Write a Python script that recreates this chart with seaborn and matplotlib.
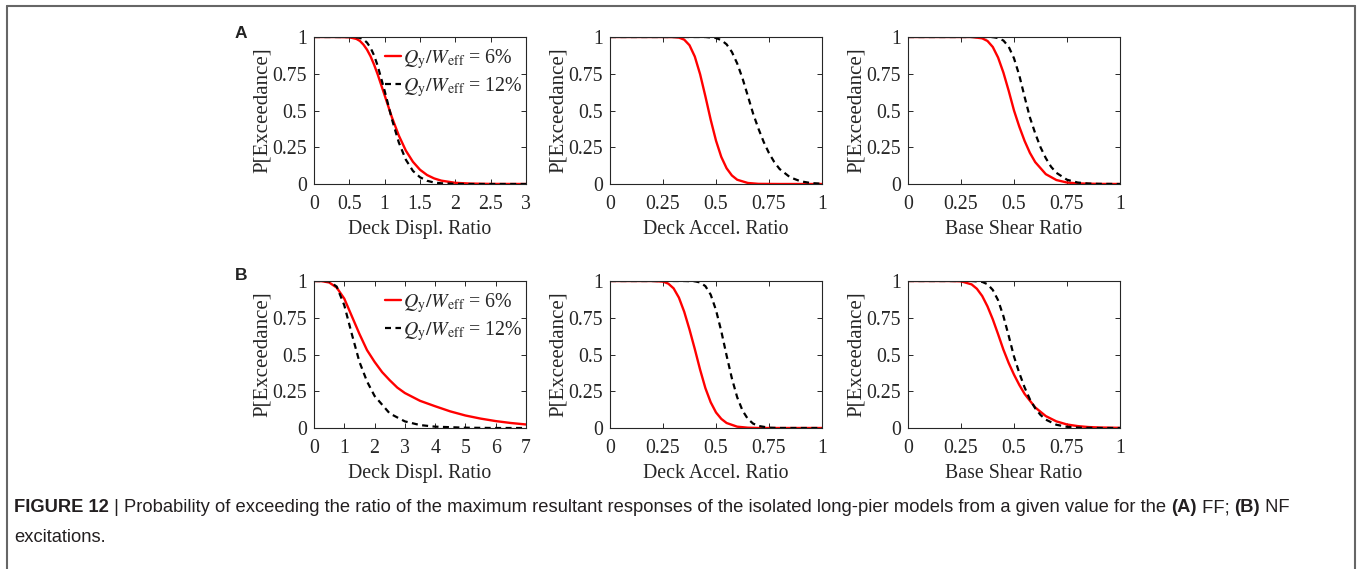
import numpy as np
import pandas as pd
import matplotlib
matplotlib.use("Agg")
import matplotlib.pyplot as plt
import seaborn as sns

# ---------------- data ----------------
LEGEND_6 = r"$Q_{\mathrm{y}}/W_{\mathrm{eff}}$ = 6%"
LEGEND_12 = r"$Q_{\mathrm{y}}/W_{\mathrm{eff}}$ = 12%"

XLABELS = ["Deck Displ. Ratio", "Deck Accel. Ratio", "Base Shear Ratio"]
YLABEL = "P[Exceedance]"
PANEL_LABELS = ["A", "B"]

XTICKS_DISP_A = [0, 0.5, 1, 1.5, 2, 2.5, 3]
XTICKS_DISP_B = [0, 1, 2, 3, 4, 5, 6, 7]
XTICKS_RATIO = [0, 0.25, 0.5, 0.75, 1]
YTICKS = [0, 0.25, 0.5, 0.75, 1]

# Row A (FF) - deck displacement ratio
A_DISP_X6 = [0, 0.3, 0.5, 0.6, 0.65, 0.7, 0.75, 0.8, 0.85, 0.9, 1.0, 1.1, 1.2, 1.3, 1.4, 1.5, 1.6, 1.7, 1.8, 2.0, 2.2, 2.5, 3.0]
A_DISP_P6 = [1, 1, 0.998, 0.987, 0.973, 0.948, 0.914, 0.869, 0.812, 0.747, 0.603, 0.457, 0.330, 0.227, 0.151, 0.097, 0.061, 0.038, 0.023, 0.008, 0.003, 0.0005, 0]
A_DISP_X12 = [0, 0.5, 0.6, 0.65, 0.7, 0.75, 0.8, 0.85, 0.9, 1.0, 1.1, 1.2, 1.3, 1.4, 1.5, 1.6, 1.7, 1.8, 2.0, 2.2, 3.0]
A_DISP_P12 = [1, 1, 0.998, 0.994, 0.983, 0.962, 0.927, 0.875, 0.806, 0.633, 0.445, 0.283, 0.165, 0.089, 0.046, 0.022, 0.010, 0.005, 0.001, 0, 0]

# Row A - deck acceleration ratio
A_ACC_X6 = [0, 0.25, 0.3, 0.325, 0.35, 0.375, 0.4, 0.425, 0.45, 0.475, 0.5, 0.525, 0.55, 0.575, 0.6, 0.65, 0.7, 0.8, 1.0]
A_ACC_P6 = [1, 1, 0.999, 0.996, 0.982, 0.944, 0.867, 0.747, 0.596, 0.437, 0.295, 0.184, 0.107, 0.058, 0.029, 0.007, 0.001, 0, 0]
A_ACC_X12 = [0, 0.45, 0.5, 0.525, 0.55, 0.575, 0.6, 0.625, 0.65, 0.675, 0.7, 0.725, 0.75, 0.775, 0.8, 0.85, 0.9, 0.95, 1.0]
A_ACC_P12 = [1, 1, 0.993, 0.979, 0.95, 0.898, 0.82, 0.719, 0.60, 0.479, 0.377, 0.286, 0.21, 0.149, 0.102, 0.045, 0.018, 0.006, 0.002]

# Row A - base shear ratio
A_SHR_X6 = [0, 0.3, 0.35, 0.375, 0.4, 0.425, 0.45, 0.475, 0.5, 0.525, 0.55, 0.575, 0.6, 0.65, 0.7, 0.75, 0.8, 0.9, 1.0]
A_SHR_P6 = [1, 1, 0.991, 0.973, 0.932, 0.86, 0.758, 0.634, 0.5, 0.39, 0.293, 0.212, 0.149, 0.067, 0.027, 0.010, 0.004, 0.0005, 0]
A_SHR_X12 = [0, 0.35, 0.4, 0.425, 0.45, 0.475, 0.5, 0.525, 0.55, 0.575, 0.6, 0.625, 0.65, 0.675, 0.7, 0.75, 0.8, 0.85, 0.9, 1.0]
A_SHR_P12 = [1, 1, 0.999, 0.993, 0.976, 0.934, 0.855, 0.739, 0.593, 0.453, 0.345, 0.25, 0.176, 0.117, 0.076, 0.029, 0.010, 0.003, 0.001, 0]

# Row B (NF) - deck displacement ratio
B_DISP_X6 = [0, 0.25, 0.5, 0.75, 1.0, 1.25, 1.5, 1.75, 2.0, 2.25, 2.5, 2.75, 3.0, 3.5, 4.0, 4.5, 5.0, 5.5, 6.0, 6.5, 7.0]
B_DISP_P6 = [1, 0.999, 0.99, 0.955, 0.88, 0.76, 0.64, 0.53, 0.45, 0.38, 0.325, 0.275, 0.238, 0.185, 0.148, 0.113, 0.085, 0.064, 0.047, 0.034, 0.024]
B_DISP_X12 = [0, 0.25, 0.5, 0.75, 1.0, 1.25, 1.5, 1.75, 2.0, 2.5, 3.0, 3.5, 4.0, 5.0, 6.0, 7.0]
B_DISP_P12 = [1, 1, 0.998, 0.962, 0.835, 0.638, 0.45, 0.317, 0.218, 0.099, 0.045, 0.020, 0.009, 0.002, 0, 0]

# Row B - deck acceleration ratio
B_ACC_X6 = [0, 0.2, 0.25, 0.275, 0.3, 0.325, 0.35, 0.375, 0.4, 0.425, 0.45, 0.475, 0.5, 0.525, 0.55, 0.6, 0.65, 0.7, 1.0]
B_ACC_P6 = [1, 1, 0.996, 0.982, 0.95, 0.887, 0.791, 0.67, 0.537, 0.397, 0.271, 0.175, 0.106, 0.062, 0.034, 0.009, 0.002, 0, 0]
B_ACC_X12 = [0, 0.35, 0.4, 0.425, 0.45, 0.475, 0.5, 0.525, 0.55, 0.575, 0.6, 0.625, 0.65, 0.675, 0.7, 0.75, 0.8, 1.0]
B_ACC_P12 = [1, 1, 0.998, 0.990, 0.965, 0.907, 0.802, 0.658, 0.493, 0.337, 0.209, 0.119, 0.062, 0.030, 0.014, 0.002, 0, 0]

# Row B - base shear ratio
B_SHR_X6 = [0, 0.2, 0.25, 0.3, 0.325, 0.35, 0.375, 0.4, 0.425, 0.45, 0.475, 0.5, 0.525, 0.55, 0.6, 0.65, 0.7, 0.75, 0.8, 0.85, 0.9, 1.0]
B_SHR_P6 = [1, 1, 0.998, 0.977, 0.947, 0.898, 0.827, 0.739, 0.638, 0.533, 0.442, 0.363, 0.293, 0.232, 0.140, 0.081, 0.045, 0.024, 0.013, 0.0065, 0.0035, 0.001]
B_SHR_X12 = [0, 0.3, 0.35, 0.375, 0.4, 0.425, 0.45, 0.475, 0.5, 0.525, 0.55, 0.575, 0.6, 0.625, 0.65, 0.7, 0.75, 0.8, 0.9, 1.0]
B_SHR_P12 = [1, 1, 0.994, 0.978, 0.939, 0.869, 0.761, 0.627, 0.486, 0.374, 0.276, 0.195, 0.134, 0.089, 0.057, 0.022, 0.008, 0.0025, 0, 0]

CAPTION_LINE1 = [
    ("FIGURE 12", "bold"),
    (" | ", "normal"),
    ("Probability of exceeding the ratio of the maximum resultant responses of the isolated long-pier models from a given value for the ", "normal"),
    ("(A)", "bold"),
    (" FF; ", "normal"),
    ("(B)", "bold"),
    (" NF", "normal"),
]
CAPTION_LINE2 = "excitations."

# ---------------- styling ----------------
sns.set_theme(style="ticks")
plt.rcParams["font.family"] = ["Liberation Serif", "DejaVu Serif"]
plt.rcParams["mathtext.fontset"] = "stix"

W, H = 1357, 569
fig = plt.figure(figsize=(W / 100, H / 100), dpi=100)
fig.patch.set_facecolor("white")

AX_COLOR = "#262626"
FS = 14.3
YFS = 15.0

lefts = [314, 610, 908]
rows = [(37, 184), (281, 428)]
axw = 212

panels = [
    [(A_DISP_X6, A_DISP_P6, A_DISP_X12, A_DISP_P12, (0, 3), XTICKS_DISP_A),
     (A_ACC_X6, A_ACC_P6, A_ACC_X12, A_ACC_P12, (0, 1), XTICKS_RATIO),
     (A_SHR_X6, A_SHR_P6, A_SHR_X12, A_SHR_P12, (0, 1), XTICKS_RATIO)],
    [(B_DISP_X6, B_DISP_P6, B_DISP_X12, B_DISP_P12, (0, 7), XTICKS_DISP_B),
     (B_ACC_X6, B_ACC_P6, B_ACC_X12, B_ACC_P12, (0, 1), XTICKS_RATIO),
     (B_SHR_X6, B_SHR_P6, B_SHR_X12, B_SHR_P12, (0, 1), XTICKS_RATIO)],
]


def fmt(v):
    return f"{v:g}"


for r, (top, bot) in enumerate(rows):
    for c, left in enumerate(lefts):
        x6, p6, x12, p12, xlim, xticks = panels[r][c]
        ax = fig.add_axes([left / W, 1 - bot / H, axw / W, (bot - top) / H])
        ax.set_facecolor("white")
        d6 = pd.DataFrame({"x": x6, "p": p6})
        d12 = pd.DataFrame({"x": x12, "p": p12})
        sns.lineplot(data=d6, x="x", y="p", ax=ax, color="#ff0000", linewidth=1.7,
                     label=LEGEND_6, legend=False)
        sns.lineplot(data=d12, x="x", y="p", ax=ax, color="black", linewidth=1.6,
                     linestyle=(0, (2.7, 2.0)), label=LEGEND_12, legend=False)
        ax.set_xlim(*xlim)
        ax.set_ylim(0, 1)
        ax.set_xticks(xticks)
        ax.set_xticklabels([fmt(v) for v in xticks])
        ax.set_yticks(YTICKS)
        ax.set_yticklabels([fmt(v) for v in YTICKS])
        ax.tick_params(direction="in", top=True, right=True, length=3.5, width=0.7,
                       colors=AX_COLOR, labelsize=FS)
        ax.tick_params(axis="x", pad=8)
        ax.tick_params(axis="y", pad=5)
        for s in ax.spines.values():
            s.set_visible(True)
            s.set_color(AX_COLOR)
            s.set_linewidth(0.8)
        ax.set_xlabel(XLABELS[c], fontsize=FS, color=AX_COLOR, labelpad=4)
        ax.set_ylabel(YLABEL, fontsize=YFS, color=AX_COLOR)
        ax.yaxis.set_label_coords(-0.2, 0.5)
        if c == 0:
            leg = ax.legend(handles=ax.lines[:2], loc="upper right", frameon=False,
                            fontsize=FS, handlelength=0.8, handletextpad=0.1,
                            borderaxespad=0.1, labelspacing=0.2,
                            bbox_to_anchor=(1.03, 1.0))
            for t in leg.get_texts():
                t.set_color(AX_COLOR)

# panel letters
fig.text(235 / W, 1 - 33 / H, PANEL_LABELS[0], fontsize=12.5, fontweight="bold",
         family="Liberation Sans", va="center", ha="left", color="#222222")
fig.text(235 / W, 1 - 275 / H, PANEL_LABELS[1], fontsize=12.5, fontweight="bold",
         family="Liberation Sans", va="center", ha="left", color="#222222")

# outer frame (left, top, right)
frame_kw = dict(color="#666666", linewidth=1.5, transform=fig.transFigure, clip_on=False)
fig.add_artist(plt.Line2D([7 / W, 7 / W], [0, 1 - 6 / H], **frame_kw))
fig.add_artist(plt.Line2D([7 / W, 1355 / W], [1 - 6 / H, 1 - 6 / H], **frame_kw))
fig.add_artist(plt.Line2D([1355 / W, 1355 / W], [0, 1 - 6 / H], **frame_kw))

# caption
fig.canvas.draw()
renderer = fig.canvas.get_renderer()
CAP_FS = 13.2
x = 14
y1 = 1 - 508 / H
for text, weight in CAPTION_LINE1:
    t = fig.text(x / W, y1, text, fontsize=CAP_FS, fontweight=weight,
                 family="Liberation Sans", va="center", ha="left", color="#231f20")
    bb = t.get_window_extent(renderer)
    x += bb.width
fig.text(14 / W, 1 - 538 / H, CAPTION_LINE2, fontsize=CAP_FS, family="Liberation Sans",
         va="center", ha="left", color="#231f20")

fig.savefig("out.png", dpi=100, facecolor="white")
